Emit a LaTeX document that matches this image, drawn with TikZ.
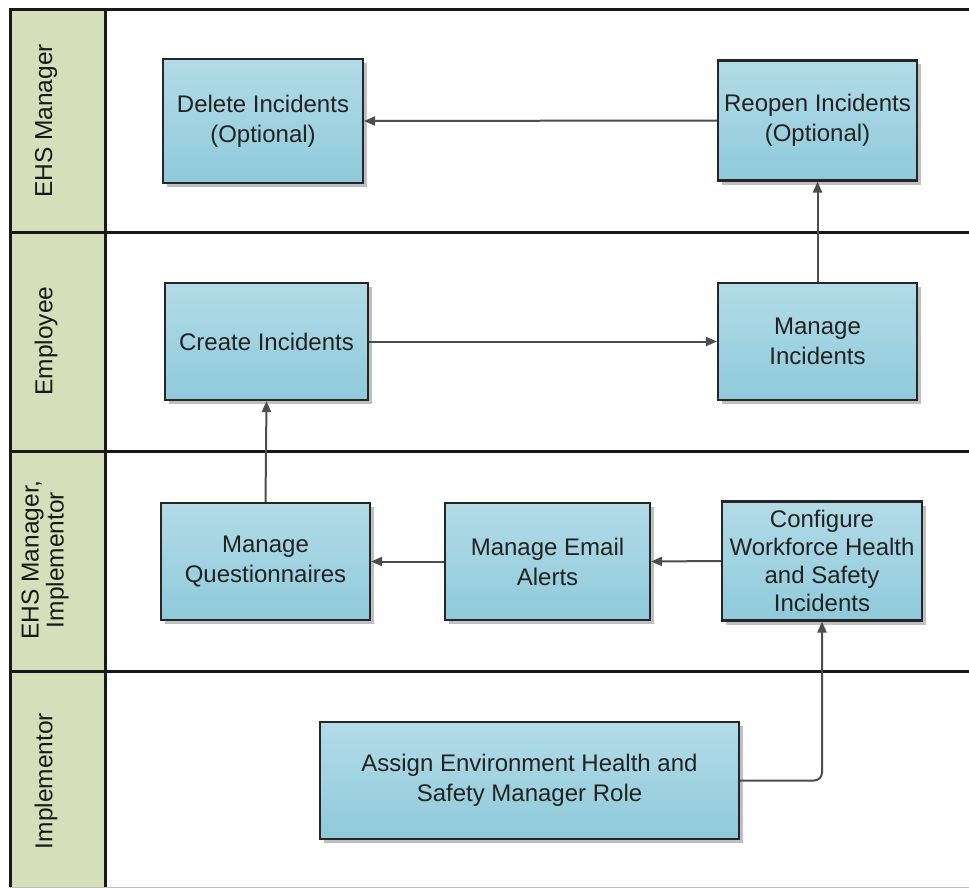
\documentclass[tikz,border=0pt]{standalone}
\usepackage{fontspec}
\setmainfont{Liberation Sans}
\usetikzlibrary{arrows.meta,shadows,positioning}
\definecolor{lanehead}{HTML}{D7DFBA}
\definecolor{boxtop}{HTML}{B2DBE7}
\definecolor{boxbot}{HTML}{8FCADA}
\definecolor{arrowgray}{HTML}{4D4D4D}
\definecolor{textdark}{HTML}{222222}
\tikzset{
  procbox/.style={draw=black!85, line width=2.1pt, top color=boxtop, bottom color=boxbot,
    minimum width=#1, align=center, inner sep=2pt, text=textdark,
    font=\fontsize{24}{30}\selectfont,
    drop shadow={shadow xshift=4pt, shadow yshift=-4pt, opacity=0.25, fill=black}},
  flow/.style={draw=arrowgray, line width=2pt, -{Triangle[length=11pt,width=9pt]}},
  laneline/.style={draw=black!90, line width=3pt},
  lanelabel/.style={rotate=90, align=center, text=black!90, font=\fontsize{24.5}{25}\selectfont}
}
\begin{document}
\begin{tikzpicture}[x=1pt,y=-1pt]
\useasboundingbox (0,0) rectangle (969,888);
% lanes
\fill[white] (10,10) rectangle (980,887);
\fill[lanehead] (10,10) rectangle (105,887);
\draw[laneline] (980,10) -- (10,10) -- (10,887);
\draw[laneline] (105,10) -- (105,887);
\draw[laneline] (10,232) -- (980,232);
\draw[laneline] (10,451) -- (980,451);
\draw[laneline] (10,671) -- (980,671);
\draw[draw=black!25, line width=1pt] (10,887) -- (980,887);
\node[lanelabel] (l1) at (46,121) {EHS Manager};
\node[lanelabel] (l2) at (46,341) {Employee};
\node[lanelabel] (l3) at (45,560) {EHS Manager,\\Implementor};
\node[lanelabel] (l4) at (46,781) {Implementor};
% boxes
\node[procbox=200pt, minimum height=124pt] (del) at (263,121) {Delete Incidents\\(Optional)};
\node[procbox=199pt, minimum height=120pt] (reo) at (817.5,120.5) {Reopen Incidents\\(Optional)};
\node[procbox=203pt, minimum height=117pt] (cre) at (266.5,341.5) {Create Incidents};
\node[procbox=199pt, minimum height=117pt] (man) at (817.5,341.5) {Manage\\Incidents};
\node[procbox=209pt, minimum height=117pt] (que) at (265.5,561.5) {Manage\\Questionnaires};
\node[procbox=205pt, minimum height=117pt] (ema) at (547.5,561.5) {Manage Email\\Alerts};
\node[procbox=200pt, minimum height=119pt, font=\fontsize{24}{28}\selectfont] (con) at (822,561) {Configure\\Workforce Health\\and Safety\\Incidents};
\node[procbox=419pt, minimum height=117pt] (asg) at (529.5,780.5) {Assign Environment Health and\\Safety Manager Role};
% connectors
\draw[flow] (reo.west) -- (del.east);
\draw[flow] (man.north) -- (reo.south);
\draw[flow] (cre.east) -- (man.west);
\draw[flow] (que.north) -- (cre.south);
\draw[flow] (ema.west) -- (que.east);
\draw[flow] (con.west) -- (ema.west -| ema.east);
\draw[flow, rounded corners=8pt] (asg.east) -| (con.south);
\end{tikzpicture}
\end{document}
